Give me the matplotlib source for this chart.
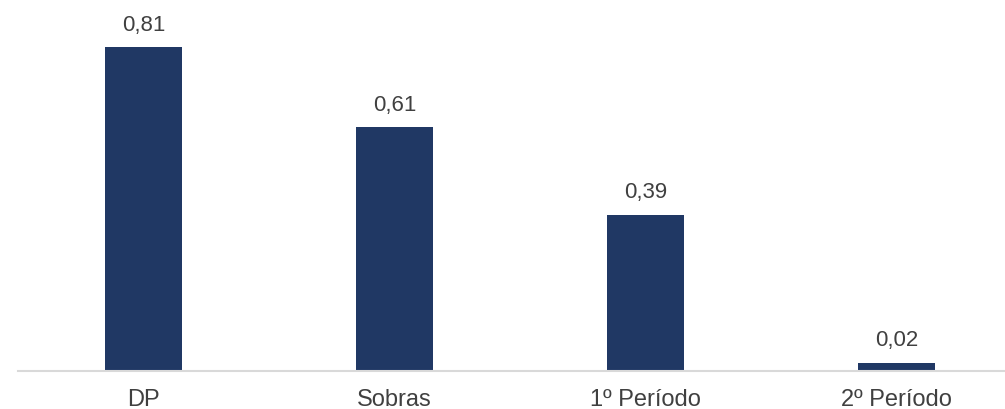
import matplotlib
matplotlib.use("Agg")
import matplotlib.pyplot as plt
import numpy as np

categories = ["DP", "Sobras", "1º Período", "2º Período"]
values = [0.81, 0.61, 0.39, 0.02]
labels = ["0,81", "0,61", "0,39", "0,02"]

BAR_COLOR = "#203864"
TEXT_COLOR = "#404040"

plt.rcParams["font.family"] = ["Liberation Sans", "DejaVu Sans"]

fig = plt.figure(figsize=(10.05, 4.10), dpi=100)
ax = fig.add_axes([18 / 1005, 38 / 410, 987 / 1005, 372 / 410])

x = np.arange(len(categories))
bars = ax.bar(x, values, width=0.31, color=BAR_COLOR)

for b, lab in zip(bars, labels):
    ax.annotate(lab, (b.get_x() + b.get_width() / 2, b.get_height()),
                xytext=(0, 9), textcoords="offset points",
                ha="center", va="bottom", fontsize=16, color=TEXT_COLOR)

ax.set_xlim(-0.5, -0.5 + 987 / 251)
ax.set_ylim(0, 0.93)
ax.set_xticks(x)
ax.set_xticklabels(categories, fontsize=17, color=TEXT_COLOR)
ax.tick_params(axis="x", length=0, pad=12)
ax.set_yticks([])
for s in ["top", "right", "left"]:
    ax.spines[s].set_visible(False)
ax.spines["bottom"].set_color("#d9d9d9")
ax.spines["bottom"].set_linewidth(1.5)

fig.savefig("out.png", dpi=100)
